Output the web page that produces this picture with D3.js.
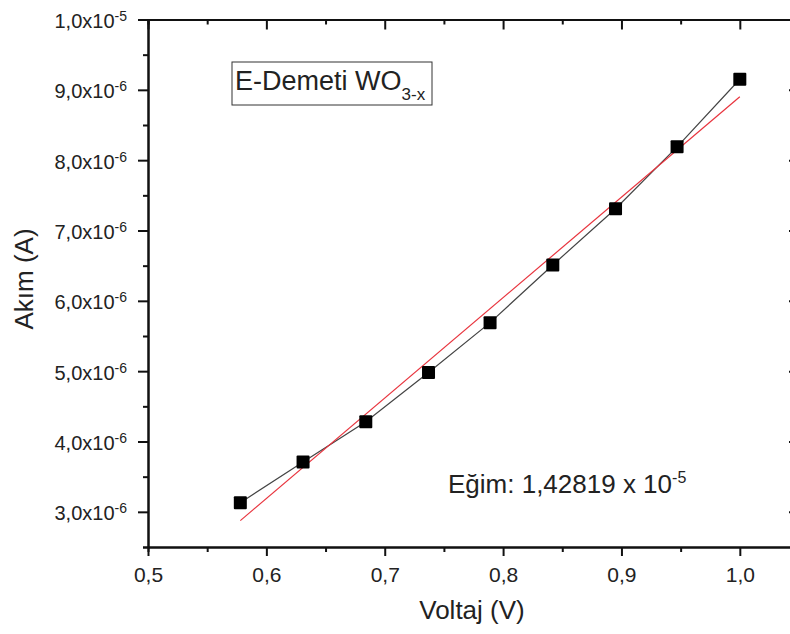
<!DOCTYPE html>
<html>
<head>
<meta charset="utf-8">
<script src="https://cdn.jsdelivr.net/npm/d3@7"></script>
<style>
  body { margin: 0; background: #fff; }
  text { font-family: "Liberation Sans", Arial, sans-serif; fill: #222; }
</style>
</head>
<body>
<script>
var width = 790, height = 634;

// olculen veriler
var voltaj = [0.578, 0.631, 0.684, 0.737, 0.789, 0.842, 0.895, 0.947, 1.0];
var akim = [3.13e-6, 3.71e-6, 4.28e-6, 4.98e-6, 5.69e-6, 6.51e-6, 7.31e-6, 8.19e-6, 9.15e-6];

// lineer fit
var egim = 1.42819e-5;
var kesisim = -5.38e-6;
var fitAralik = [0.578, 1.0];

var xTicks = [0.5, 0.6, 0.7, 0.8, 0.9, 1.0];
var xLabels = ["0,5", "0,6", "0,7", "0,8", "0,9", "1,0"];
var xMinor = [0.55, 0.65, 0.75, 0.85, 0.95, 1.05];
var yTicks = [3e-6, 4e-6, 5e-6, 6e-6, 7e-6, 8e-6, 9e-6, 1e-5];
var yMant = ["3,0", "4,0", "5,0", "6,0", "7,0", "8,0", "9,0", "1,0"];
var yExp = ["-6", "-6", "-6", "-6", "-6", "-6", "-6", "-5"];
var yMinor = [2.5e-6, 3.5e-6, 4.5e-6, 5.5e-6, 6.5e-6, 7.5e-6, 8.5e-6, 9.5e-6];

var mLeft = 148, mTop = 19.5, mRight = 799, mBottom = 547;

var svg = d3.select("body").append("svg")
    .attr("width", width)
    .attr("height", height);

var x = d3.scaleLinear().domain([0.5, 1.05]).range([mLeft, mRight]);
var y = d3.scaleLinear().domain([2.5e-6, 1.0e-5]).range([mBottom, mTop]);

function axisStyle(g) {
    g.select(".domain").attr("stroke", "#111").attr("stroke-width", 2);
    g.selectAll(".tick line").attr("stroke", "#111").attr("stroke-width", 2);
}

// ana eksenler
var gx = svg.append("g").attr("transform", "translate(0," + mBottom + ")")
    .call(d3.axisBottom(x).tickValues(xTicks).tickSize(9).tickSizeOuter(0)
        .tickFormat(function(d, i) { return xLabels[i]; }));
gx.selectAll("text").style("font-size", "21px").attr("dy", 0).attr("y", 35);
axisStyle(gx);
svg.append("g").attr("transform", "translate(0," + mBottom + ")")
    .call(d3.axisBottom(x).tickValues(xMinor).tickSize(5).tickFormat(""))
    .call(axisStyle);

var gy = svg.append("g").attr("transform", "translate(" + mLeft + ",0)")
    .call(d3.axisLeft(y).tickValues(yTicks).tickSize(10).tickSizeOuter(0).tickFormat(""));
axisStyle(gy);
svg.append("g").attr("transform", "translate(" + mLeft + ",0)")
    .call(d3.axisLeft(y).tickValues(yMinor).tickSize(5).tickFormat(""))
    .call(axisStyle);

// y etiketleri
var yl = gy.selectAll(".tick").append("text")
    .attr("x", -21).attr("y", 8)
    .attr("text-anchor", "end")
    .style("font-size", "20px");
yl.append("tspan").text(function(d, i) { return yMant[i] + "x10"; });
yl.append("tspan").style("font-size", "14px").attr("dy", -7)
    .text(function(d, i) { return yExp[i]; });

// ust ve sag eksen
svg.append("g").attr("transform", "translate(0," + mTop + ")")
    .call(d3.axisBottom(x).tickValues(xTicks).tickSize(10).tickSizeOuter(0).tickFormat(""))
    .call(axisStyle);
svg.append("g").attr("transform", "translate(0," + mTop + ")")
    .call(d3.axisBottom(x).tickValues(xMinor).tickSize(5).tickFormat(""))
    .call(axisStyle);
svg.append("g").attr("transform", "translate(" + mRight + ",0)")
    .call(d3.axisRight(y).tickValues(yTicks).tickSize(-10).tickSizeOuter(0).tickFormat(""))
    .call(axisStyle);
svg.append("g").attr("transform", "translate(" + mRight + ",0)")
    .call(d3.axisRight(y).tickValues(yMinor).tickSize(-5).tickFormat(""))
    .call(axisStyle);

// veri cizgisi
var line = d3.line()
    .x(function(d, i) { return x(voltaj[i]); })
    .y(function(d) { return y(d); });

svg.append("path")
    .datum(akim)
    .attr("d", line)
    .attr("fill", "none")
    .attr("stroke", "#444")
    .attr("stroke-width", 1.2);

// fit dogrusu
svg.append("line")
    .attr("x1", x(fitAralik[0])).attr("y1", y(egim * fitAralik[0] + kesisim))
    .attr("x2", x(fitAralik[1])).attr("y2", y(egim * fitAralik[1] + kesisim))
    .attr("stroke", "#e8333d")
    .attr("stroke-width", 1.2);

// kareler
svg.selectAll("rect.pt")
    .data(akim)
    .enter()
    .append("rect")
    .attr("class", "pt")
    .attr("x", function(d, i) { return x(voltaj[i]) - 6.5; })
    .attr("y", function(d) { return y(d) - 6.5; })
    .attr("width", 13).attr("height", 13)
    .attr("rx", 1)
    .attr("fill", "#000");

// eksen basliklari
svg.append("text")
    .attr("x", 472).attr("y", 619)
    .attr("text-anchor", "middle")
    .style("font-size", "26px")
    .text("Voltaj (V)");

svg.append("text")
    .attr("transform", "translate(33,279) rotate(-90)")
    .attr("text-anchor", "middle")
    .style("font-size", "26px")
    .text("Akım (A)");

// etiket kutusu
svg.append("rect")
    .attr("x", 232).attr("y", 62)
    .attr("width", 200).attr("height", 43)
    .attr("fill", "#fff")
    .attr("stroke", "#333").attr("stroke-width", 1);

var leg = svg.append("text")
    .attr("x", 235).attr("y", 90)
    .style("font-size", "27px");
leg.append("tspan").text("E-Demeti WO");
leg.append("tspan").style("font-size", "17px").attr("dy", 10).text("3-x");

var eg = svg.append("text")
    .attr("x", 448).attr("y", 493)
    .style("font-size", "26px");
eg.append("tspan").text("Eğim: 1,42819 x 10");
eg.append("tspan").style("font-size", "16px").attr("dy", -10).text("-5");
</script>
</body>
</html>
